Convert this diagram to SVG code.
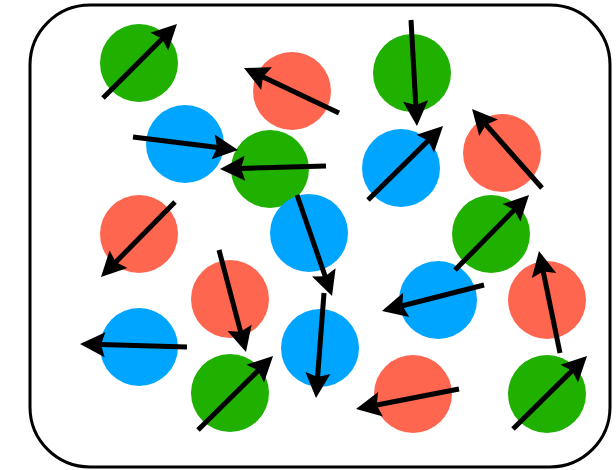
<svg xmlns="http://www.w3.org/2000/svg" width="616" height="470" viewBox="0 0 616 470">
<style>
.g{fill:#1fb000}.b{fill:#00a5ff}.r{fill:#ff6650}
.a{stroke:#000;stroke-width:5;fill:none;marker-end:url(#ah)}
</style>
<defs>
<marker id="ah" markerUnits="userSpaceOnUse" orient="auto" refX="0" refY="0" markerWidth="30" markerHeight="30" overflow="visible">
<path d="M12,0 L-13,-12.5 L-9,0 L-13,12.5 Z" fill="#000"/>
</marker>
</defs>
<rect x="30" y="5" width="580" height="462" rx="60" ry="60" fill="#fff" stroke="#000" stroke-width="3"/>
<g id="g1"><circle class="g" cx="139" cy="63" r="39"/></g>
<g id="g2"><circle class="g" cx="412" cy="73" r="39"/></g>
<g id="g3"><circle class="g" cx="270" cy="169" r="39"/></g>
<g id="g4"><circle class="g" cx="491" cy="234" r="39"/></g>
<g id="g5"><circle class="g" cx="230" cy="393" r="39"/></g>
<g id="g6"><circle class="g" cx="547" cy="394" r="39"/></g>
<g id="b1"><circle class="b" cx="185" cy="144" r="39"/></g>
<g id="b2"><circle class="b" cx="401" cy="168" r="39"/></g>
<g id="b3"><circle class="b" cx="309" cy="233" r="39"/></g>
<g id="b4"><circle class="b" cx="438" cy="300" r="39"/></g>
<g id="b5"><circle class="b" cx="139" cy="347" r="39"/></g>
<g id="b6"><circle class="b" cx="320" cy="348" r="39"/></g>
<g id="r1"><circle class="r" cx="292" cy="91" r="39"/></g>
<g id="r2"><circle class="r" cx="502" cy="153" r="39"/></g>
<g id="r3"><circle class="r" cx="139" cy="234" r="39"/></g>
<g id="r4"><circle class="r" cx="230" cy="299" r="39"/></g>
<g id="r5"><circle class="r" cx="547" cy="300" r="39"/></g>
<g id="r6"><circle class="r" cx="413" cy="394" r="39"/></g>
<g id="connectors">
<line class="a" x1="103" y1="98" x2="168.5" y2="32.5"/>
<line class="a" x1="339" y1="113" x2="254.8" y2="73.1"/>
<line class="a" x1="411" y1="20" x2="416.3" y2="114"/>
<line class="a" x1="133" y1="137" x2="226.1" y2="148.5"/>
<line class="a" x1="326" y1="166" x2="232" y2="168.7"/>
<line class="a" x1="368" y1="200" x2="434.5" y2="134.4"/>
<line class="a" x1="542" y1="188" x2="480" y2="118"/>
<line class="a" x1="175" y1="202" x2="109.4" y2="268.5"/>
<line class="a" x1="297" y1="195" x2="328.1" y2="284.7"/>
<line class="a" x1="455" y1="270" x2="520.6" y2="203.5"/>
<line class="a" x1="219" y1="250" x2="242.9" y2="340.4"/>
<line class="a" x1="484" y1="285" x2="393.6" y2="308"/>
<line class="a" x1="560" y1="353" x2="541.4" y2="262.8"/>
<line class="a" x1="187" y1="347" x2="92" y2="344.3"/>
<line class="a" x1="324" y1="293" x2="316.9" y2="386"/>
<line class="a" x1="198" y1="430" x2="264.5" y2="364.4"/>
<line class="a" x1="459" y1="389" x2="367.8" y2="406.7"/>
<line class="a" x1="513" y1="429" x2="578.5" y2="364.4"/>
</g>
</svg>
